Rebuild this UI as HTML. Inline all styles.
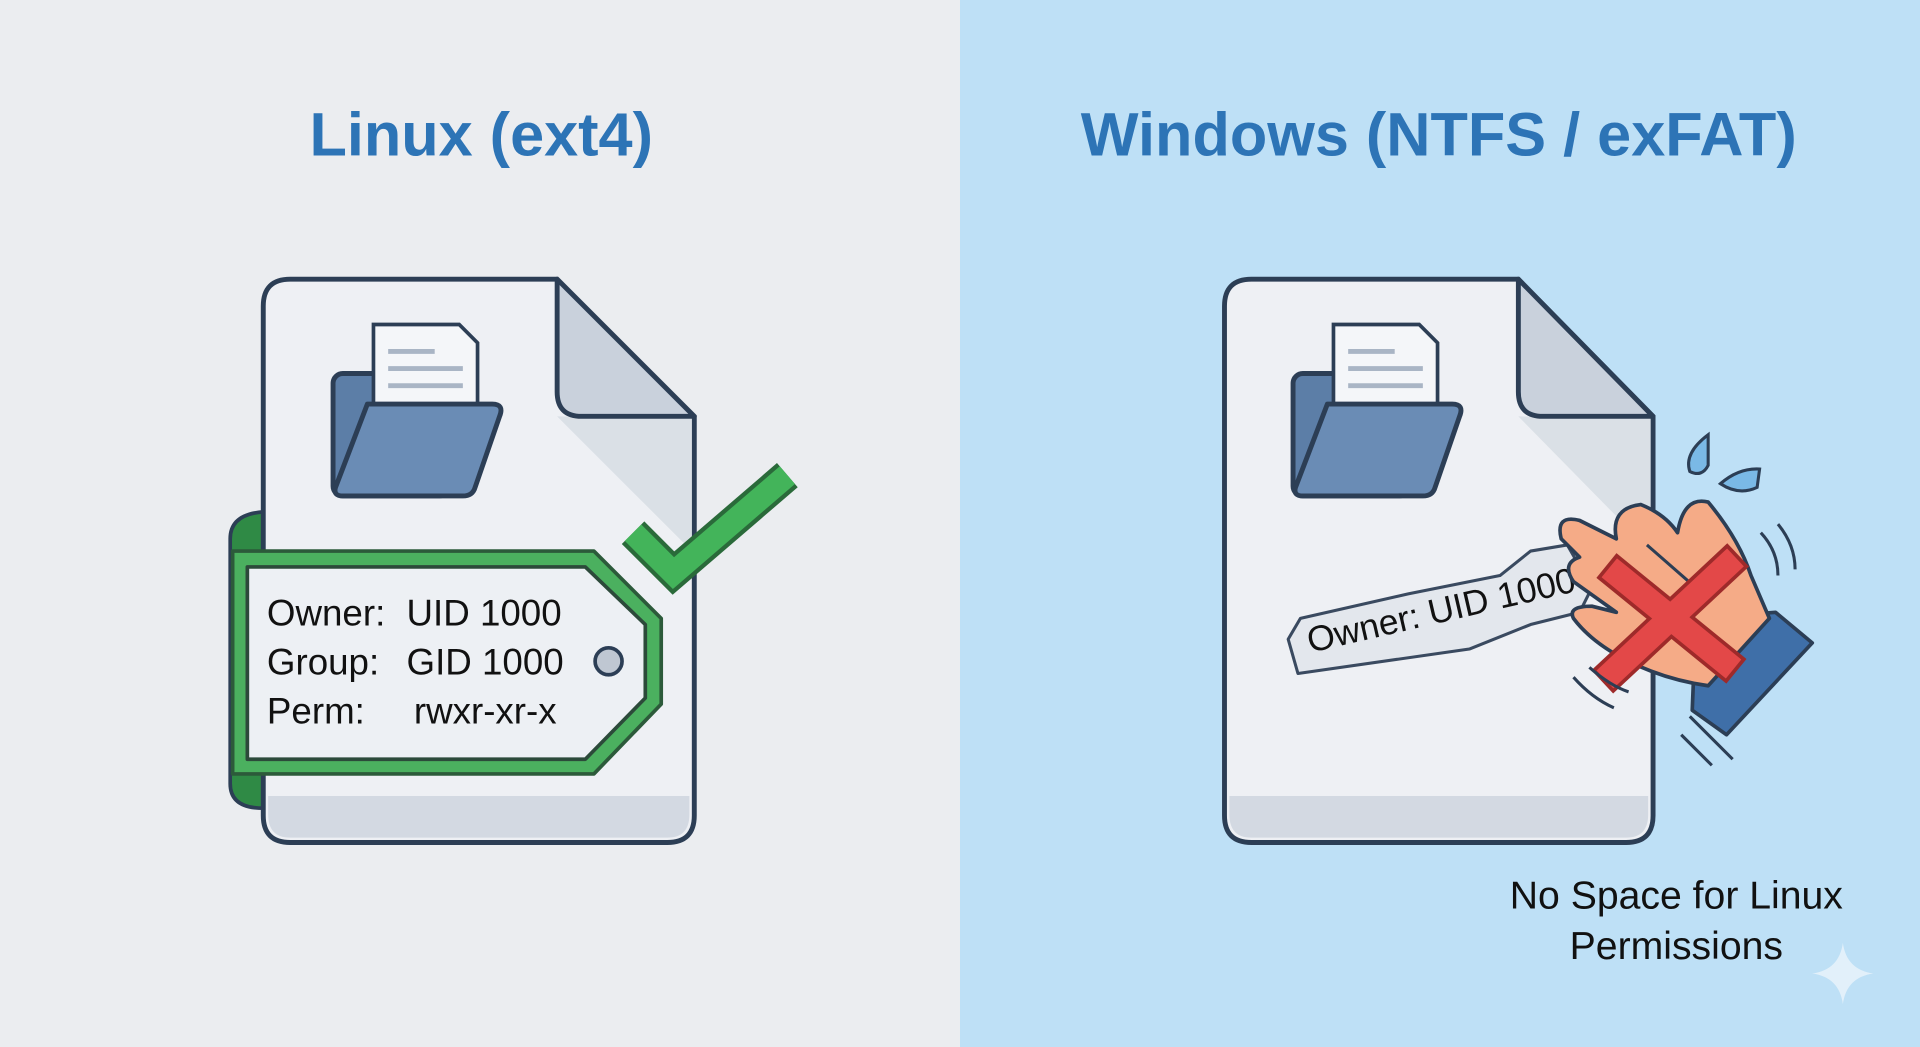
<!DOCTYPE html>
<html><head><meta charset="utf-8"><style>
html,body{margin:0;padding:0;width:1920px;height:1047px;overflow:hidden}
svg{display:block}
text{font-family:"Liberation Sans","DejaVu Sans",sans-serif}
</style></head><body>
<svg width="1920" height="1047" viewBox="0 0 1568 855" preserveAspectRatio="none" xmlns="http://www.w3.org/2000/svg">
<rect x="0" y="0" width="784" height="855" fill="#ebedf0"/>
<rect x="784" y="0" width="784" height="855" fill="#bee0f6"/>
<text x="393" y="127" text-anchor="middle" font-size="50" font-weight="bold" fill="#2d74b6">Linux (ext4)</text>
<text x="1175" y="127" text-anchor="middle" font-size="50" font-weight="bold" fill="#2d74b6">Windows (NTFS / exFAT)</text>

<path d="M188 440 Q188 420 215 418 L215 660 Q188 660 188 640 Z" fill="#2f8a45" stroke="#2c3e55" stroke-width="3"/>
<path d="M237 228 L455 228 L567 340 L567 666 Q567 688 545 688 L237 688 Q215 688 215 666 L215 250 Q215 228 237 228 Z" fill="#eef0f4" stroke="#2c3e55" stroke-width="4"/>
<path d="M219 650 L563 650 L563 665 Q563 684 545 684 L237 684 Q219 684 219 665 Z" fill="#d3d9e2"/>
<path d="M455 340 L565 450 L565 342 Z" fill="#d2d8e0" opacity="0.7"/>
<path d="M455 228 L455 320 Q455 340 475 340 L567 340 Z" fill="#c9d1dc" stroke="#2c3e55" stroke-width="4" stroke-linejoin="round"/>
<rect x="272" y="305" width="95" height="100" rx="8" fill="#5c7ea7" stroke="#2c3e55" stroke-width="4"/>
<path d="M305 265 L375 265 L390 280 L390 330 L305 330 Z" fill="#f4f6f9" stroke="#2c3e55" stroke-width="3"/>
<line x1="317" y1="287" x2="355" y2="287" stroke="#a9b5c5" stroke-width="4"/>
<line x1="317" y1="301" x2="378" y2="301" stroke="#a9b5c5" stroke-width="4"/>
<line x1="317" y1="315" x2="378" y2="315" stroke="#a9b5c5" stroke-width="4"/>
<path d="M300 330 L402 330 Q412 330 408 340 L388 398 Q386 405 378 405 L280 405 Q272 405 274 398 Z" fill="#6a8cb5" stroke="#2c3e55" stroke-width="4" stroke-linejoin="round"/>
<path d="M190 450 L485 450 L540 505 L540 575 L485 632 L190 632 Z" fill="#4bb05f" stroke="#2c5a3a" stroke-width="3" stroke-linejoin="round"/>
<path d="M202 463 L478 463 L527 510 L527 570 L478 620 L202 620 Z" fill="#edf0f4" stroke="#2c4a3a" stroke-width="3" stroke-linejoin="round"/>
<circle cx="497" cy="540" r="11" fill="#bfc7d2" stroke="#2c3e55" stroke-width="3"/>
<text x="218" y="511" font-size="30" fill="#111">Owner:</text><text x="332" y="511" font-size="30" fill="#111">UID 1000</text>
<text x="218" y="551" font-size="30" fill="#111">Group:</text><text x="332" y="551" font-size="30" fill="#111">GID 1000</text>
<text x="218" y="591" font-size="30" fill="#111">Perm:</text><text x="338" y="591" font-size="30" fill="#111">rwxr-xr-x</text>
<path d="M517 435 L550 468 L643 388" fill="none" stroke="#2a6a3a" stroke-width="26" stroke-linejoin="miter"/>
<path d="M517 435 L550 468 L643 388" fill="none" stroke="#43b45a" stroke-width="19" stroke-linejoin="miter"/>

<path d="M1022 228 L1240 228 L1350 340 L1350 666 Q1350 688 1328 688 L1022 688 Q1000 688 1000 666 L1000 250 Q1000 228 1022 228 Z" fill="#eef0f4" stroke="#2c3e55" stroke-width="4"/>
<path d="M1004 650 L1346 650 L1346 665 Q1346 684 1328 684 L1022 684 Q1004 684 1004 665 Z" fill="#d3d9e2"/>
<path d="M1240 340 L1348 450 L1348 342 Z" fill="#d2d8e0" opacity="0.7"/>
<path d="M1240 228 L1240 320 Q1240 340 1260 340 L1350 340 Z" fill="#c9d1dc" stroke="#2c3e55" stroke-width="4" stroke-linejoin="round"/>
<rect x="1056" y="305" width="95" height="100" rx="8" fill="#5c7ea7" stroke="#2c3e55" stroke-width="4"/>
<path d="M1089 265 L1159 265 L1174 280 L1174 330 L1089 330 Z" fill="#f4f6f9" stroke="#2c3e55" stroke-width="3"/>
<line x1="1101" y1="287" x2="1139" y2="287" stroke="#a9b5c5" stroke-width="4"/>
<line x1="1101" y1="301" x2="1162" y2="301" stroke="#a9b5c5" stroke-width="4"/>
<line x1="1101" y1="315" x2="1162" y2="315" stroke="#a9b5c5" stroke-width="4"/>
<path d="M1084 330 L1186 330 Q1196 330 1192 340 L1172 398 Q1170 405 1162 405 L1064 405 Q1056 405 1058 398 Z" fill="#6a8cb5" stroke="#2c3e55" stroke-width="4" stroke-linejoin="round"/>
<path d="M1052 522 L1062 505 L1150 485 L1225 470 L1250 450 L1280 445 L1300 480 L1290 500 L1250 510 L1200 530 L1060 550 Z" fill="#e3e7ed" stroke="#3a4a60" stroke-width="2.5" stroke-linejoin="round"/>
<text x="1070" y="533" font-size="29" fill="#111" transform="rotate(-13 1070 533)">Owner: UID 1000</text>
<path d="M1385 505 L1450 500 L1480 525 L1410 600 L1382 580 Z" fill="#3f6fa8" stroke="#2c3e55" stroke-width="3" stroke-linejoin="round"/>
<path d="M1275 440 Q1270 420 1290 425 L1320 440 Q1315 415 1340 412 Q1360 420 1370 435 Q1375 405 1395 410 Q1420 440 1430 470 L1445 505 L1395 560 Q1360 555 1330 540 Q1300 525 1285 505 Q1280 495 1300 495 L1320 500 L1285 475 Q1275 460 1290 455 Z" fill="#f5ab87" stroke="#2c3e55" stroke-width="3" stroke-linejoin="round"/>
<path d="M1320 470 L1360 495 M1345 445 L1385 480" stroke="#2c3e55" stroke-width="2.5" fill="none"/>
<path d="M1322 470 L1408 540 M1410 462 L1318 548" stroke="#9e2a2a" stroke-width="26" stroke-linecap="square"/>
<path d="M1322 470 L1408 540 M1410 462 L1318 548" stroke="#e34848" stroke-width="20" stroke-linecap="square"/>
<path d="M1395 355 Q1375 370 1380 385 Q1390 390 1395 380 Z" fill="#7ab9e6" stroke="#2c3e55" stroke-width="2.5"/>
<path d="M1437 383 Q1420 382 1405 395 Q1420 405 1435 398 Z" fill="#7ab9e6" stroke="#2c3e55" stroke-width="2.5"/>
<path d="M1438 435 Q1452 450 1452 470 M1452 428 Q1466 445 1466 465" stroke="#2c3e55" stroke-width="2.5" fill="none"/>
<path d="M1285 553 Q1300 570 1318 578 M1298 545 Q1315 560 1330 565" stroke="#2c3e55" stroke-width="2.5" fill="none"/>
<path d="M1380 585 L1415 620 M1373 600 L1398 625" stroke="#2c3e55" stroke-width="2.5" fill="none"/>
<text x="1369" y="742" text-anchor="middle" font-size="32" fill="#111">No Space for Linux</text>
<text x="1369" y="783" text-anchor="middle" font-size="32" fill="#111">Permissions</text>
<path d="M1505 770 Q1508 792 1530 795 Q1508 798 1505 820 Q1502 798 1480 795 Q1502 792 1505 770 Z" fill="#e6f2fb" opacity="0.9"/>
</svg>
</body></html>
